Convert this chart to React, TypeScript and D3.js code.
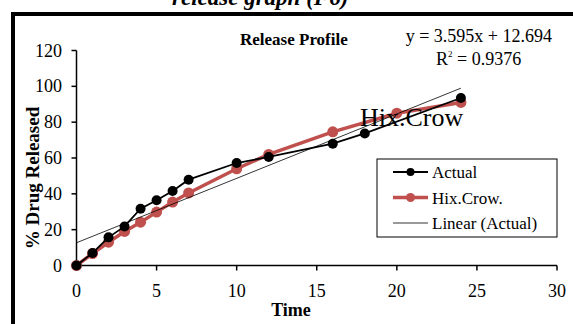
import React from 'react';
import * as d3 from 'd3';

const actualTime = [0, 1, 2, 3, 4, 5, 6, 7, 10, 12, 16, 18, 24];
const actualRelease = [0, 7, 15.7, 21.8, 31.7, 36.4, 41.6, 47.9, 57.2, 60.6, 68, 73.7, 93.5];

const hixTime = [0, 1, 2, 3, 4, 5, 6, 7, 10, 12, 16, 20, 24];
const hixRelease = [0, 6.7, 13, 19, 24.2, 29.8, 35.4, 40.5, 54, 62, 74.6, 85, 91];

const slope = 3.595;
const intercept = 12.694;

const xTicks = [0, 5, 10, 15, 20, 25, 30];
const yTicks = [0, 20, 40, 60, 80, 100, 120];

const legendItems = ['Actual', 'Hix.Crow.', 'Linear (Actual)'];

const W = 573;
const H = 324;
const RED = '#C0504D';
const FONT = '"Liberation Serif", "Times New Roman", serif';

type Pt = { t: number; v: number };

const App: React.FC = () => {
  const x = d3.scaleLinear().domain([0, 30]).range([76.5, 557]);
  const y = d3.scaleLinear().domain([0, 120]).range([265.5, 50.5]);

  const actual: Pt[] = actualTime.map((t, i) => ({ t, v: actualRelease[i] }));
  const hix: Pt[] = hixTime.map((t, i) => ({ t, v: hixRelease[i] }));

  const line = d3
    .line<Pt>()
    .x(d => x(d.t))
    .y(d => y(d.v));

  const trendEnd = d3.max(actualTime) ?? 24;
  const trend: Pt[] = [
    { t: 0, v: intercept },
    { t: trendEnd, v: slope * trendEnd + intercept },
  ];

  const legendX = 377;
  const legendY = 159;

  return (
    <svg
      width={W}
      height={H}
      style={{ position: 'absolute', left: 0, top: 0, background: '#fff' }}
      fontFamily={FONT}
    >
      {/* clipped page title above the frame */}
      <text x={172} y={5} fontSize={23} fontWeight="bold" fontStyle="italic">
        release graph (F6)
      </text>
      {/* outer frame */}
      <line x1={11} x2={W} y1={14} y2={14} stroke="#000" strokeWidth={4} />
      <line x1={13} x2={13} y1={12} y2={H} stroke="#000" strokeWidth={4} />

      {/* axes */}
      <line x1={x(0)} x2={x(0)} y1={y(120)} y2={y(0)} stroke="#000" strokeWidth={1.5} />
      <line x1={x(0)} x2={x(30)} y1={y(0)} y2={y(0)} stroke="#000" strokeWidth={1.5} />
      {yTicks.map(t => (
        <g key={`y${t}`}>
          <line x1={x(0) - 5} x2={x(0)} y1={y(t)} y2={y(t)} stroke="#000" strokeWidth={1.5} />
          <text x={62} y={y(t) + 6} fontSize={18} textAnchor="end">
            {t}
          </text>
        </g>
      ))}
      {xTicks.map(t => (
        <g key={`x${t}`}>
          <line x1={x(t)} x2={x(t)} y1={y(0)} y2={y(0) + 5} stroke="#000" strokeWidth={1.5} />
          <text x={x(t)} y={297} fontSize={18} textAnchor="middle">
            {t}
          </text>
        </g>
      ))}
      <text x={291} y={316} fontSize={18} fontWeight="bold" textAnchor="middle">
        Time
      </text>
      <text
        transform="translate(39,178) rotate(-90)"
        fontSize={19}
        fontWeight="bold"
        textAnchor="middle"
      >
        % Drug Released
      </text>

      {/* annotations */}
      <text x={240} y={45} fontSize={17} fontWeight="bold">
        Release Profile
      </text>
      <text x={552} y={42} fontSize={18} textAnchor="end">
        y = 3.595x + 12.694
      </text>
      <text x={436} y={65} fontSize={18}>
        R<tspan fontSize={9} dy={-8}>2</tspan>
        <tspan dy={8}> = 0.9376</tspan>
      </text>

      {/* series */}
      <path d={line(hix) || ''} fill="none" stroke={RED} strokeWidth={3.5} />
      {hix.map(d => (
        <circle key={`h${d.t}`} cx={x(d.t)} cy={y(d.v)} r={5.5} fill={RED} />
      ))}
      <path d={line(actual) || ''} fill="none" stroke="#000" strokeWidth={1.8} />
      {actual.map(d => (
        <circle key={`a${d.t}`} cx={x(d.t)} cy={y(d.v)} r={5} fill="#000" />
      ))}
      <path d={line(trend) || ''} fill="none" stroke="#000" strokeWidth={0.8} />

      <text x={360} y={126} fontSize={26}>
        Hix.Crow
      </text>

      {/* legend */}
      <rect x={legendX} y={legendY} width={180} height={78} fill="#fff" stroke="#000" strokeWidth={1} />
      {legendItems.map((name, i) => {
        const ly = legendY + 13 + i * 25.5;
        const color = i === 1 ? RED : '#000';
        const sw = i === 0 ? 1.8 : i === 1 ? 3.5 : 0.8;
        return (
          <g key={name}>
            <line x1={393} x2={428} y1={ly} y2={ly} stroke={color} strokeWidth={sw} />
            {i < 2 && <circle cx={410.5} cy={ly} r={i === 0 ? 4 : 4.5} fill={color} />}
            <text x={432} y={ly + 6} fontSize={17}>
              {name}
            </text>
          </g>
        );
      })}
    </svg>
  );
};

export default App;
